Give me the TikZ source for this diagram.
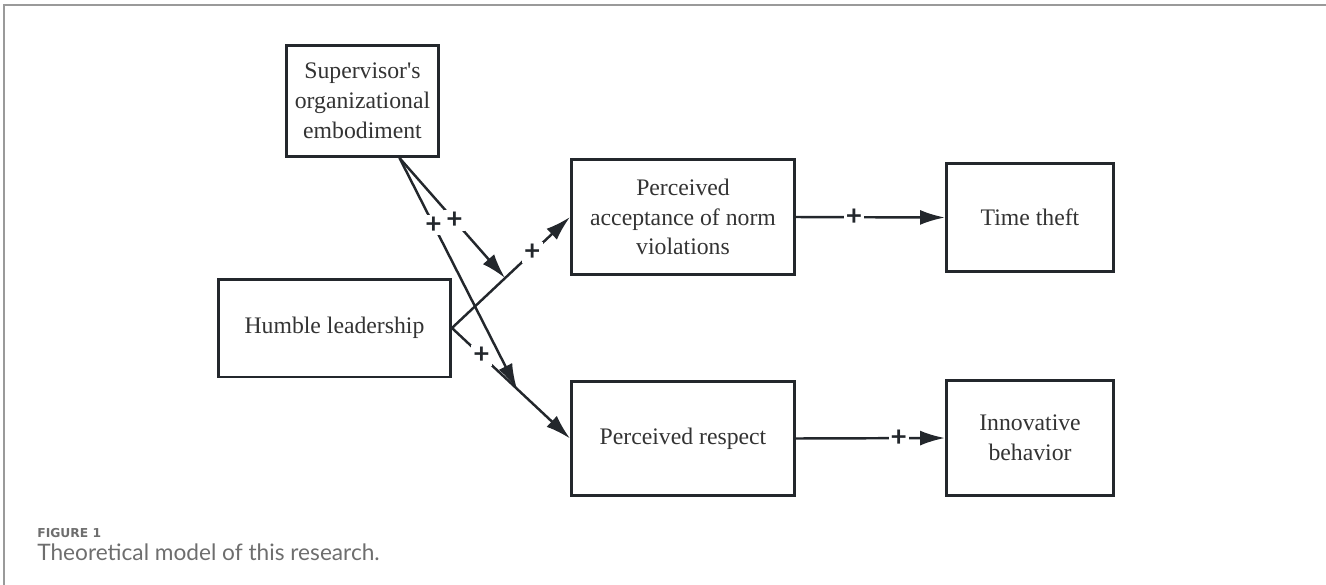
\documentclass[tikz,border=0pt]{standalone}
\usepackage{fontspec}
\setmainfont{Liberation Serif}[Ligatures=TeXOff]
\setsansfont{Lato}
\newfontfamily\figlabelfont{DejaVu Sans}
\usetikzlibrary{arrows.meta}
\definecolor{boxline}{HTML}{23272C}
\definecolor{boxtext}{HTML}{333333}
\definecolor{framegray}{HTML}{9A9A9A}
\definecolor{captiongray}{HTML}{6E6E6E}
\tikzset{
    construct/.style={draw=boxline, line width=1.7pt, text=boxtext, align=center, inner sep=0pt, font=\fontsize{13.5}{17}\selectfont},
    link/.style={draw=boxline, line width=1.4pt, -{Latex[length=5mm,width=3mm]}},
    plus/.style={fill=white, text=boxline, inner sep=1.2pt, font=\sffamily\bfseries\fontsize{16}{16}\selectfont},
}

\begin{document}
\begin{tikzpicture}[x=0.02cm, y=-0.02cm]
                \useasboundingbox (0,0) rectangle (1326,585);
                \draw[framegray, line width=1.1pt] (4,585) -- (4,5) -- (1326,5);

                \node[construct, minimum width=3.04cm, minimum height=2.22cm] (soe) at (362.5,101) {Supervisor's\\organizational\\embodiment};
                \node[construct, minimum width=4.64cm, minimum height=1.96cm] (hl) at (334.5,328) {Humble leadership};
                \node[construct, minimum width=4.46cm, minimum height=2.3cm] (pa) at (683,217) {Perceived\\acceptance of norm\\violations};
                \node[construct, minimum width=4.46cm, minimum height=2.28cm] (pr) at (683,438.5) {Perceived respect};
                \node[construct, minimum width=3.34cm, minimum height=2.16cm] (tt) at (1030,217.5) {Time theft};
                \node[construct, minimum width=3.34cm, minimum height=2.3cm] (ib) at (1030,438) {Innovative\\behavior};

                \draw[link] (hl.east) -- coordinate[pos=0.45] (mod1) node[plus, pos=0.68] {+} (pa.west);
                \draw[link] (hl.east) -- node[plus, pos=0.25] {+} coordinate[pos=0.55] (mod2) (pr.west);
                \draw[link] (soe.-57) -- node[plus, pos=0.52] {+} (mod1);
                \draw[link] (soe.-57) -- node[plus, pos=0.29] {+} (mod2);
                \draw[link] (pa.east) -- node[plus, pos=0.39] {+} (tt.west);
                \draw[link] (pr.east) -- node[plus, pos=0.69] {+} (ib.west);

                \node[anchor=base west, inner sep=0pt, text=captiongray, font=\figlabelfont\bfseries\fontsize{7}{9}\selectfont] (figlabel) at (37,537) {FIGURE 1};
                \node[anchor=base west, inner sep=0pt, text=captiongray, font=\sffamily\fontsize{12.9}{15}\selectfont] (figcaption) at (37,560) {Theoretical model of this research.};
\end{tikzpicture}
\end{document}
